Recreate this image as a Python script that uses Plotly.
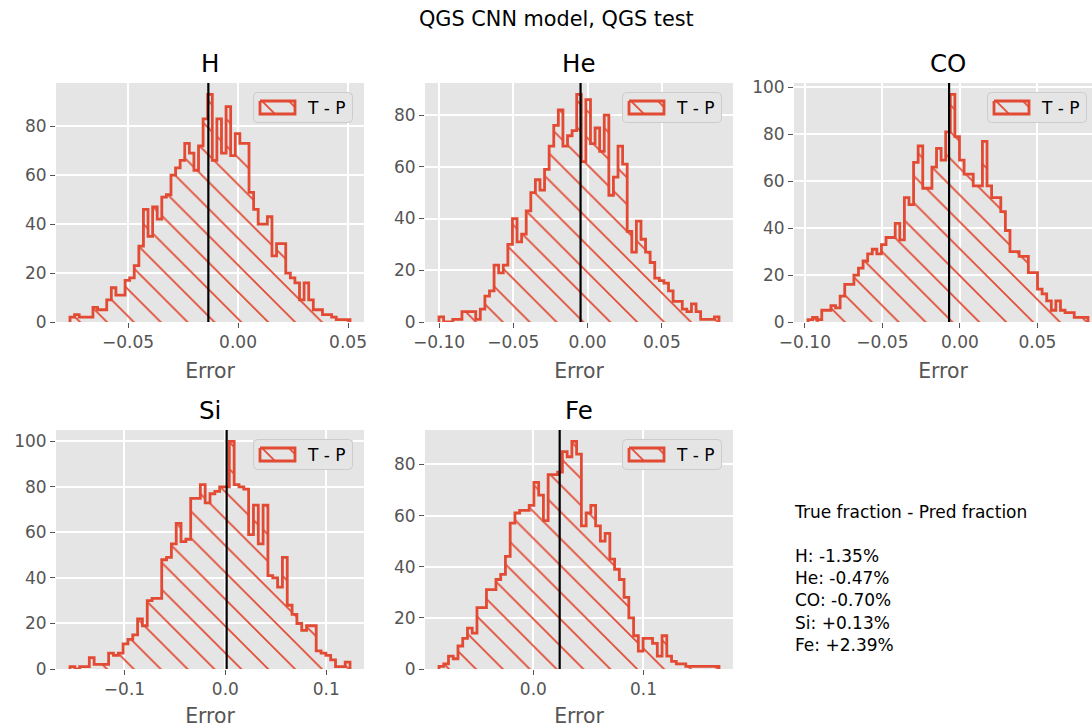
import numpy as np
import plotly.graph_objects as go

# ---------------------------------------------------------------- data
components = ["H", "He", "CO", "Si", "Fe"]

# mean of (true fraction - predicted fraction), in percent
mean_error_pct = [-1.35, -0.47, -0.70, 0.13, 2.39]

# outer bin edges of each error histogram
bin_range_H = (-0.0764, 0.0509)
bin_range_He = (-0.1000, 0.0885)
bin_range_CO = (-0.0980, 0.0826)
bin_range_Si = (-0.1540, 0.1236)
bin_range_Fe = (-0.0857, 0.1686)

counts_H = [2, 3, 2, 2, 2, 6, 5, 5, 9, 14,
            11, 11, 17, 18, 23, 31, 46, 35, 47, 42,
            51, 52, 60, 63, 66, 73, 69, 62, 72, 83,
            93, 66, 83, 69, 88, 68, 77, 73, 73, 53,
            46, 40, 40, 43, 27, 32, 32, 20, 18, 16,
            9, 16, 9, 5, 5, 3, 3, 2, 1, 1, 1]

counts_He = [2, 0, 0, 1, 1, 4, 4, 4, 1, 5,
             10, 12, 22, 19, 22, 30, 40, 31, 34, 43,
             50, 55, 51, 59, 68, 76, 82, 68, 72, 74,
             88, 62, 86, 69, 75, 66, 80, 49, 56, 68,
             61, 35, 27, 39, 32, 27, 23, 17, 16, 15,
             12, 8, 8, 5, 4, 7, 4, 1, 1, 1, 2]

counts_CO = [1, 2, 1, 5, 5, 7, 6, 11, 16, 16,
             20, 23, 26, 29, 31, 29, 33, 36, 36, 42,
             35, 53, 50, 68, 75, 57, 57, 66, 74, 69,
             81, 97, 79, 69, 63, 63, 58, 58, 77, 58,
             53, 53, 47, 39, 30, 30, 28, 28, 21, 21,
             14, 12, 9, 5, 9, 5, 4, 4, 2, 2, 2]

counts_Si = [1, 0, 1, 1, 5, 2, 2, 2, 7, 6,
             7, 11, 13, 15, 22, 19, 30, 31, 31, 48,
             49, 55, 64, 56, 57, 75, 75, 81, 73, 77,
             78, 80, 80, 100, 81, 80, 79, 59, 72, 55,
             72, 41, 40, 36, 49, 28, 24, 20, 17, 19,
             19, 8, 7, 6, 4, 1, 1, 3]

counts_Fe = [1, 2, 5, 4, 9, 12, 16, 14, 24, 24,
             31, 31, 35, 37, 44, 57, 61, 62, 62, 64,
             73, 68, 58, 76, 76, 77, 85, 83, 89, 84,
             56, 61, 64, 56, 50, 53, 43, 39, 35, 28,
             20, 13, 7, 12, 12, 10, 5, 13, 5, 3,
             2, 2, 1, 1, 1, 1, 1, 1, 1]

xticks_H = [-0.05, 0.0, 0.05]
xticks_He = [-0.10, -0.05, 0.0, 0.05]
xticks_CO = [-0.10, -0.05, 0.0, 0.05]
xticks_Si = [-0.1, 0.0, 0.1]
xticks_Fe = [0.0, 0.1]
xtick_format = [".2f", ".2f", ".2f", ".1f", ".1f"]

legend_label = "T - P"
x_label = "Error"
suptitle = "QGS CNN model, QGS test"
info_header = "True fraction - Pred fraction"

bin_ranges = [bin_range_H, bin_range_He, bin_range_CO, bin_range_Si, bin_range_Fe]
counts_all = [counts_H, counts_He, counts_CO, counts_Si, counts_Fe]
xticks_all = [xticks_H, xticks_He, xticks_CO, xticks_Si, xticks_Fe]

# ---------------------------------------------------------------- style
W, H = 1092, 728
FONT = "DejaVu Sans"
RED = "#E24A33"
PANEL_BG = "#E5E5E5"
GREY = "#555555"
HATCH = dict(shape="\\", fgcolor=RED, fgopacity=1, bgcolor="rgba(0,0,0,0)",
             fillmode="replace", size=19, solidity=0.09)

PANEL_W, PANEL_H = 308, 239
panel_origin = [(56, 83), (425, 83), (794, 83), (56, 430), (425, 430)]

# legend box geometry (pixels, relative to the box)
LEG_W, LEG_H = 100, 31
LEG_INSET_X, LEG_INSET_Y = 11, 9
KEY_X0, KEY_X1, KEY_Y0, KEY_Y1 = 7, 42, 9, 22
LABEL_X = 52
# axis ids of the legend boxes; each is created after its panel so it is drawn on top
legend_axis = [10, 6, 7, 8, 9]


def xdom(a, b):
    return [a / W, b / W]


def ydom(top, bottom):
    return [1 - bottom / H, 1 - top / H]


def rounded_box(w, h, r, i=0.5):
    return (f"M{r + i},{i} L{w - r - i},{i} Q{w - i},{i} {w - i},{r + i} "
            f"L{w - i},{h - r - i} Q{w - i},{h - i} {w - r - i},{h - i} "
            f"L{r + i},{h - i} Q{i},{h - i} {i},{h - r - i} L{i},{r + i} Q{i},{i} {r + i},{i} Z")


fig = go.Figure()
axes = {}
shapes = []
annotations = []

# ---------------------------------------------------------------- panels
for i, name in enumerate(components):
    k = i + 1
    sfx = "" if k == 1 else str(k)
    lo, hi = bin_ranges[i]
    counts = np.asarray(counts_all[i], dtype=float)
    edges = np.linspace(lo, hi, len(counts) + 1)
    # step outline: drop to zero at both outer edges
    xs = np.concatenate([[edges[0]], edges])
    ys = np.concatenate([[0.0], counts, [0.0]])

    fig.add_trace(go.Scatter(
        x=xs, y=ys, mode="lines",
        line=dict(color=RED, width=2.8, shape="hv"),
        fill="tozeroy", fillcolor="rgba(0,0,0,0)", fillpattern=HATCH,
        xaxis="x" + sfx, yaxis="y" + sfx, showlegend=False, hoverinfo="skip"))

    left, top = panel_origin[i]
    right, bottom = left + PANEL_W, top + PANEL_H
    span = hi - lo
    r0, r1 = lo - 0.05 * span, hi + 0.05 * span
    vis_right = min(right, W)
    r1 = r0 + (r1 - r0) * (vis_right - left) / PANEL_W

    axes["xaxis" + sfx] = dict(
        domain=xdom(left, vis_right), range=[r0, r1], anchor="y" + sfx,
        tickvals=xticks_all[i], tickformat=xtick_format[i],
        showgrid=True, gridcolor="white", gridwidth=1.5,
        zeroline=False, showline=False,
        ticks="outside", ticklen=5, tickwidth=1.2, tickcolor=GREY,
        tickfont=dict(size=17, color=GREY, family=FONT),
        title=dict(text=x_label, font=dict(size=20.4, color=GREY, family=FONT), standoff=12),
        automargin=False, fixedrange=True)
    axes["yaxis" + sfx] = dict(
        domain=ydom(top, bottom), range=[0, 1.05 * counts.max()], anchor="x" + sfx,
        tick0=0, dtick=20,
        showgrid=True, gridcolor="white", gridwidth=1.5,
        zeroline=False, showline=False,
        ticks="outside", ticklen=5, tickwidth=1.2, tickcolor=GREY,
        tickfont=dict(size=17, color=GREY, family=FONT),
        automargin=False, fixedrange=True)

    # mean error marker
    m = mean_error_pct[i] / 100.0
    shapes.append(dict(type="line", xref="x" + sfx, yref=f"y{sfx} domain",
                       x0=m, x1=m, y0=0, y1=1,
                       line=dict(color="black", width=2.2), layer="above"))

    annotations.append(dict(text=name, x=(left + right) / 2 / W, y=1 - (top - 20) / H,
                            xref="paper", yref="paper", xanchor="center", yanchor="middle",
                            showarrow=False, font=dict(size=24.5, color="black", family=FONT)))

# ---------------------------------------------------------------- legend boxes
for i, name in enumerate(components):
    lk = legend_axis[i]
    left, top = panel_origin[i]
    right = min(left + PANEL_W - LEG_INSET_X, W - 5)
    bl, bt = right - LEG_W, top + LEG_INSET_Y

    fig.add_trace(go.Scatter(
        x=[KEY_X0, KEY_X1, KEY_X1, KEY_X0, KEY_X0],
        y=[KEY_Y0, KEY_Y0, KEY_Y1, KEY_Y1, KEY_Y0],
        mode="lines", line=dict(color=RED, width=2.8),
        fill="toself", fillcolor="rgba(0,0,0,0)", fillpattern=HATCH,
        xaxis=f"x{lk}", yaxis=f"y{lk}", showlegend=False, hoverinfo="skip"))

    axes[f"xaxis{lk}"] = dict(domain=xdom(bl, right), range=[0, LEG_W], anchor=f"y{lk}",
                              visible=False, fixedrange=True)
    axes[f"yaxis{lk}"] = dict(domain=ydom(bt, bt + LEG_H), range=[LEG_H, 0], anchor=f"x{lk}",
                              visible=False, fixedrange=True)

    shapes.append(dict(type="path", xref=f"x{lk}", yref=f"y{lk}",
                       path=rounded_box(LEG_W, LEG_H, 4),
                       line=dict(color="#CCCCCC", width=1), layer="above"))
    annotations.append(dict(text=legend_label, x=LABEL_X, y=LEG_H / 2,
                            xref=f"x{lk}", yref=f"y{lk}", xanchor="left", yanchor="middle",
                            showarrow=False, font=dict(size=17, color="black", family=FONT)))

# ---------------------------------------------------------------- texts
info_lines = [info_header, ""] + [f"{c}: {v:+.2f}%" for c, v in zip(components, mean_error_pct)]
annotations.append(dict(text="<br>".join(info_lines), x=792 / W, y=1 - 500 / H,
                        xref="paper", yref="paper", xanchor="left", yanchor="top", align="left",
                        showarrow=False, font=dict(size=17, color="black", family=FONT)))

annotations.append(dict(text=suptitle, x=556 / W, y=1 - 19 / H, xref="paper", yref="paper",
                        xanchor="center", yanchor="middle", showarrow=False,
                        font=dict(size=20.8, color="black", family=FONT)))

fig.update_layout(
    width=W, height=H, margin=dict(l=0, r=0, t=0, b=0),
    paper_bgcolor="white", plot_bgcolor=PANEL_BG,
    font=dict(family=FONT, color="black"),
    showlegend=False, shapes=shapes, annotations=annotations,
    **axes)

fig.write_html("out.html")
